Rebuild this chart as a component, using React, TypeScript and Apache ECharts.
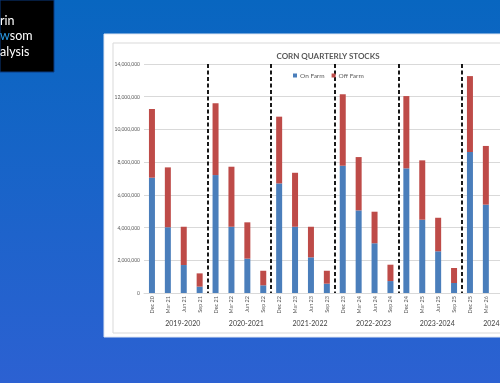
import React, { useEffect, useRef } from "react";
import * as echarts from "echarts";

const quarters = [
  "Dec 20", "Mar 21", "Jun 21", "Sep 21",
  "Dec 21", "Mar 22", "Jun 22", "Sep 22",
  "Dec 22", "Mar 23", "Jun 23", "Sep 23",
  "Dec 23", "Mar 24", "Jun 24", "Sep 24",
  "Dec 24", "Mar 25", "Jun 25", "Sep 25",
  "Dec 25", "Mar 26", "Jun 26", "Sep 26",
];

const onFarm = [
  7050000, 4020000, 1710000, 390000,
  7210000, 4050000, 2100000, 470000,
  6700000, 4050000, 2180000, 570000,
  7780000, 5050000, 3040000, 730000,
  7620000, 4480000, 2550000, 610000,
  8620000, 5400000, null, null,
];

const offFarm = [
  4200000, 3660000, 2340000, 810000,
  4390000, 3670000, 2220000, 890000,
  4080000, 3300000, 1870000, 790000,
  4370000, 3260000, 1930000, 1000000,
  4420000, 3630000, 2050000, 920000,
  4640000, 3590000, null, null,
];

const marketingYears = ["2019-2020", "2020-2021", "2021-2022", "2022-2023", "2023-2024", "2024-2025"];

const FONT = "Lato, 'Liberation Sans', sans-serif";

export default function App() {
  const ref = useRef<HTMLDivElement>(null);

  useEffect(() => {
    if (!ref.current) return;
    const chart = echarts.init(ref.current, undefined, { renderer: "svg" });
    chart.setOption({
      animation: false,
      textStyle: { fontFamily: FONT },
      graphic: [
        {
          type: "rect",
          z: -10,
          silent: true,
          shape: { x: 0, y: 0, width: 560, height: 383 },
          style: {
            fill: new echarts.graphic.LinearGradient(0, 0, 0, 1, [
              { offset: 0, color: "#0866c0" },
              { offset: 1, color: "#2c61d2" },
            ]),
          },
        },
        {
          type: "rect",
          z: -9,
          silent: true,
          shape: { x: 0, y: 0, width: 54, height: 72 },
          style: { fill: "#000000", stroke: "#0a3a80", lineWidth: 1 },
        },
        {
          type: "text",
          z: -8,
          x: 0,
          y: 20,
          style: { text: "rin", fill: "#ffffff", fontSize: 12.5, align: "left", verticalAlign: "middle", fontFamily: FONT },
        },
        {
          type: "text",
          z: -8,
          x: 0,
          y: 35,
          style: {
            text: "{b|w}{w|som}",
            align: "left",
            verticalAlign: "middle",
            rich: {
              w: { fill: "#ffffff", fontSize: 12.5, fontFamily: FONT },
              b: { fill: "#2a9be6", fontSize: 12.5, fontFamily: FONT },
            },
          },
        },
        {
          type: "text",
          z: -8,
          x: 0,
          y: 51,
          style: { text: "alysis", fill: "#ffffff", fontSize: 12.5, align: "left", verticalAlign: "middle", fontFamily: FONT },
        },
        {
          type: "rect",
          z: -9,
          silent: true,
          shape: { x: 104, y: 34, width: 500, height: 303 },
          style: { fill: "#ffffff", stroke: "#dfe6f2", lineWidth: 1 },
        },
        {
          type: "rect",
          z: -8,
          silent: true,
          shape: { x: 113, y: 43, width: 440, height: 290 },
          style: { fill: "none", stroke: "#d9d9d9", lineWidth: 1 },
        },
      ],
      title: {
        text: "CORN QUARTERLY STOCKS",
        left: 323,
        top: 47,
        textAlign: "center",
        textStyle: { fontSize: 8, fontWeight: "bold", color: "#595959", fontFamily: FONT },
      },
      legend: {
        left: 288,
        top: 67,
        itemWidth: 4,
        itemHeight: 4,
        itemGap: 7,
        icon: "rect",
        textStyle: { fontSize: 6.5, color: "#595959", fontFamily: FONT, padding: [0, 0, 0, -2] },
        data: ["On Farm", "Off Farm"],
      },
      grid: { left: 144, top: 64, height: 229, width: 381.6 },
      xAxis: [
        {
          type: "category",
          data: quarters,
          boundaryGap: true,
          axisLine: { lineStyle: { color: "#d9d9d9" } },
          axisTick: { show: false },
          axisLabel: {
            rotate: 90,
            fontSize: 5.5,
            color: "#595959",
            margin: 3,
            interval: 0,
            fontFamily: FONT,
          },
          splitLine: {
            show: true,
            interval: (index: number) => index > 0 && index % 4 === 0,
            lineStyle: { color: "#000000", width: 1.8, type: [4, 2.5] },
          },
        },
        {
          type: "category",
          data: marketingYears,
          position: "bottom",
          offset: 26,
          axisLine: { show: false },
          axisTick: { show: false },
          splitLine: { show: false },
          axisLabel: {
            fontSize: 7,
            color: "#404040",
            margin: 0,
            interval: 0,
            padding: [0, 0, 0, 14],
            fontFamily: FONT,
          },
        },
      ],
      yAxis: {
        type: "value",
        min: 0,
        max: 14000000,
        interval: 2000000,
        axisLine: { show: false },
        axisTick: { show: false },
        axisLabel: {
          fontSize: 5,
          color: "#595959",
          margin: 4,
          fontFamily: FONT,
          formatter: (v: number) => v.toLocaleString("en-US"),
        },
        splitLine: { lineStyle: { color: "#d9d9d9", width: 1 } },
      },
      series: [
        {
          name: "On Farm",
          type: "bar",
          stack: "stocks",
          barWidth: 6,
          xAxisIndex: 0,
          itemStyle: { color: "#4a7ebb" },
          data: onFarm,
        },
        {
          name: "Off Farm",
          type: "bar",
          stack: "stocks",
          barWidth: 6,
          xAxisIndex: 0,
          itemStyle: { color: "#be4b48" },
          data: offFarm,
        },
      ],
    });
    return () => chart.dispose();
  }, []);

  return (
    <div style={{ position: "fixed", left: 0, top: 0, width: 500, height: 383, overflow: "hidden" }}>
      <div ref={ref} style={{ position: "absolute", left: 0, top: 0, width: 560, height: 383 }} />
    </div>
  );
}
